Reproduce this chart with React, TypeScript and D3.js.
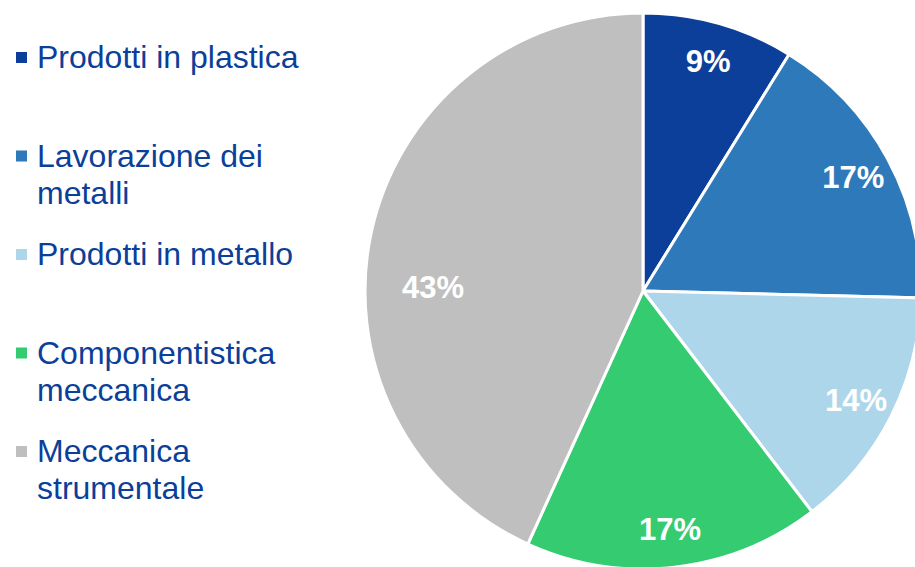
import { useEffect, useRef } from 'react';
import * as d3 from 'd3';

const categories = [
  'Prodotti in plastica',
  'Lavorazione dei metalli',
  'Prodotti in metallo',
  'Componentistica meccanica',
  'Meccanica strumentale',
];
// how each legend entry wraps
const legendLines = [
  ['Prodotti in plastica'],
  ['Lavorazione dei', 'metalli'],
  ['Prodotti in metallo'],
  ['Componentistica', 'meccanica'],
  ['Meccanica', 'strumentale'],
];
// shares; labels show them rounded
const values = [8.8, 16.6, 14.2, 17.2, 43.2];
const colors = ['#0B3F99', '#2E79BA', '#AED6EA', '#35CB70', '#BFBFBF'];

const W = 915;
const H = 567;

export default function App() {
  const svgRef = useRef<SVGSVGElement | null>(null);

  useEffect(() => {
    if (!svgRef.current) return;
    const svg = d3.select(svgRef.current);
    svg.selectAll('*').remove();

    const font = '"Liberation Sans", Arial, sans-serif';
    const cx = 643;
    const cy = 291;
    const R = 278;

    const data = categories.map((c, i) => ({ name: c, value: values[i], color: colors[i] }));

    const pie = d3.pie<typeof data[number]>()
      .value(d => d.value)
      .sort(null);
    const arcs = pie(data);

    const arc = d3.arc<d3.PieArcDatum<typeof data[number]>>()
      .innerRadius(0)
      .outerRadius(R);
    const labelArc = d3.arc<d3.PieArcDatum<typeof data[number]>>()
      .innerRadius(R * 0.86)
      .outerRadius(R * 0.86);

    const g = svg.append('g').attr('transform', `translate(${cx},${cy})`);

    g.selectAll('path.slice')
      .data(arcs)
      .enter()
      .append('path')
      .attr('class', 'slice')
      .attr('d', arc)
      .attr('fill', d => d.data.color)
      .attr('stroke', '#ffffff')
      .attr('stroke-width', 3)
      .attr('stroke-linejoin', 'round');

    // big slice crossing the left horizontal: label sits on that horizontal, further in
    const labelPos = (d: d3.PieArcDatum<typeof data[number]>) => {
      const left = Math.PI * 1.5;
      if (d.endAngle - d.startAngle > Math.PI * 0.8 && d.startAngle <= left && d.endAngle >= left) {
        const r = R * 0.755;
        return [r * Math.sin(left), -r * Math.cos(left) - 4];
      }
      return labelArc.centroid(d);
    };

    g.selectAll('text.pct')
      .data(arcs)
      .enter()
      .append('text')
      .attr('class', 'pct')
      .attr('transform', d => {
        const [x, y] = labelPos(d);
        return `translate(${x},${y})`;
      })
      .attr('text-anchor', 'middle')
      .attr('dy', '0.36em')
      .style('font-family', font)
      .style('font-weight', 'bold')
      .style('font-size', '31px')
      .style('fill', '#ffffff')
      .text(d => `${Math.round(d.data.value)}%`);

    // legend
    const yScale = d3.scalePoint<number>()
      .domain(d3.range(categories.length))
      .range([68, 462]);
    const lineH = 37;

    const leg = svg.append('g');
    const item = leg.selectAll('g.item')
      .data(legendLines)
      .enter()
      .append('g')
      .attr('class', 'item')
      .attr('transform', (_d, i) => `translate(0,${yScale(i)})`);

    item.append('rect')
      .attr('x', 16)
      .attr('y', -16)
      .attr('width', 11)
      .attr('height', 11)
      .attr('fill', (_d, i) => colors[i]);

    item.append('text')
      .attr('x', 37)
      .style('font-family', font)
      .style('font-size', '32px')
      .style('fill', '#0B3F99')
      .selectAll('tspan')
      .data(d => d)
      .enter()
      .append('tspan')
      .attr('x', 37)
      .attr('dy', (_d, j) => (j === 0 ? 0 : lineH))
      .text(d => d);
  }, []);

  return (
    <svg
      ref={svgRef}
      width={W}
      height={H}
      style={{ position: 'absolute', left: 0, top: 0, background: '#ffffff' }}
    />
  );
}
